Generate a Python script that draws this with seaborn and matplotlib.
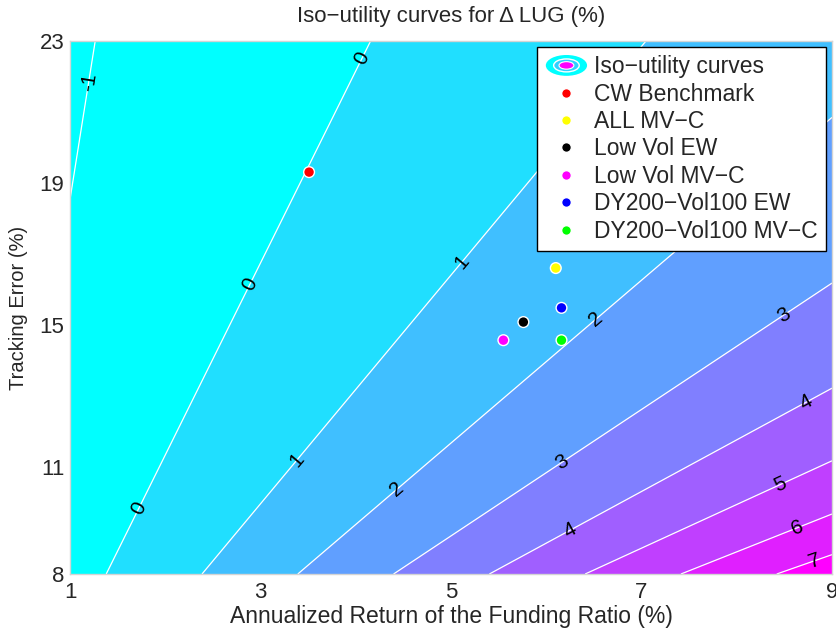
import numpy as np
import pandas as pd
import matplotlib
matplotlib.use("Agg")
import matplotlib.pyplot as plt
import seaborn as sns
from matplotlib.patches import Ellipse
from matplotlib.legend_handler import HandlerBase

# Portfolio positions: annualized funding-ratio return vs tracking error (%)
portfolios = ["CW Benchmark", "ALL MV−C", "Low Vol EW", "Low Vol MV−C",
              "DY200−Vol100 EW", "DY200−Vol100 MV−C"]
annual_return = [3.51, 6.10, 5.76, 5.55, 6.16, 6.16]
tracking_error = [19.31, 16.61, 15.09, 14.58, 15.49, 14.58]
point_colors = ["#ff0000", "#ffff00", "#000000", "#ff00ff", "#0000ff", "#00ff00"]

# Iso-utility levels and axis ticks
utility_levels = [-1, 0, 1, 2, 3, 4, 5, 6, 7]
x_ticks = [1, 3, 5, 7, 9]
y_ticks = [8, 11, 15, 19, 23]

# Delta LUG grows linearly with the (shifted) return / tracking-error ratio
lug_slope = 7.955
lug_shift = 0.10
lug_offset = -1.472

sns.set_style("white")
plt.rcParams["font.family"] = ["Liberation Sans", "DejaVu Sans"]

fig = plt.figure(figsize=(8.36, 6.33), dpi=100)
ax = fig.add_axes([70 / 836, 1 - 574 / 633, 762 / 836, 533 / 633])

ret_grid = np.linspace(x_ticks[0], x_ticks[-1], 500)
te_grid = np.linspace(y_ticks[0], y_ticks[-1], 500)
R, TE = np.meshgrid(ret_grid, te_grid)
Z = lug_slope * (R + lug_shift) / TE + lug_offset

zmin, zmax = Z.min(), Z.max()
fill_levels = [zmin - 1e-6] + utility_levels + [zmax + 1e-6]
lo, hi = utility_levels[0], utility_levels[-1]
fill_colors = [plt.cm.cool(0.0)] + [plt.cm.cool((L - lo) / (hi - lo)) for L in utility_levels]
ax.contourf(R, TE, Z, levels=fill_levels, colors=fill_colors, antialiased=True)
cs = ax.contour(R, TE, Z, levels=utility_levels, colors="white",
                linewidths=0.9, linestyles="solid")

label_spots = [(1.19, 21.85),
               (4.11, 22.47), (2.92, 16.10), (1.77, 9.80),
               (5.16, 16.70), (3.41, 11.15),
               (6.57, 15.01), (4.46, 10.31),
               (8.55, 15.06), (6.20, 11.01),
               (8.76, 12.67), (6.26, 9.15),
               (8.48, 10.39), (8.64, 9.24), (8.82, 8.39)]
ax.clabel(cs, inline=False, fontsize=15, colors="black", fmt="%d", manual=label_spots)

df = pd.DataFrame({"portfolio": portfolios, "ret": annual_return, "te": tracking_error})
sns.scatterplot(data=df, x="ret", y="te", hue="portfolio", hue_order=portfolios,
                palette=dict(zip(portfolios, point_colors)), s=60,
                edgecolor="white", linewidth=1.0, ax=ax, zorder=5, legend=True)

ax.set_xlim(x_ticks[0], x_ticks[-1])
ax.set_ylim(y_ticks[0], y_ticks[-1])
ax.set_xticks(x_ticks)
ax.set_yticks(y_ticks)
ax.tick_params(axis="both", labelsize=16, length=0)
ax.tick_params(axis="x", pad=6)
ax.tick_params(axis="y", pad=4)
for sp in ax.spines.values():
    sp.set_color("#d4d4d4")
    sp.set_linewidth(1.0)

ax.set_xlabel("Annualized Return of the Funding Ratio (%)", fontsize=16.5, labelpad=1)
ax.set_ylabel("Tracking Error (%)", fontsize=14.5, labelpad=8)
ax.set_title("Iso−utility curves for Δ LUG (%)", fontsize=16, pad=14)


class ContourIcon:
    pass


class HandlerContourIcon(HandlerBase):
    def create_artists(self, legend, orig_handle, xdescent, ydescent,
                       width, height, fontsize, trans):
        cx = width / 2 - xdescent
        cy = height / 2 - ydescent
        w = width
        h = height * 1.3
        outer = Ellipse((cx, cy), w, h, facecolor=plt.cm.cool(0.0),
                        edgecolor="none", transform=trans)
        ring = Ellipse((cx, cy), w * 0.62, h * 0.62, facecolor=plt.cm.cool(0.18),
                       edgecolor="white", linewidth=1.0, transform=trans)
        inner = Ellipse((cx, cy), w * 0.36, h * 0.36, facecolor=plt.cm.cool(1.0),
                        edgecolor="white", linewidth=0.8, transform=trans)
        return [outer, ring, inner]


handles, labels = ax.get_legend_handles_labels()
for hnd in handles:
    hnd.set_markersize(7)
    hnd.set_markeredgecolor("white")
leg = ax.legend([ContourIcon()] + handles, ["Iso−utility curves"] + labels,
                handler_map={ContourIcon: HandlerContourIcon()},
                loc="upper right", fontsize=16.5, frameon=True, fancybox=False,
                edgecolor="black", framealpha=1.0, borderaxespad=0.25,
                handlelength=1.8, handletextpad=0.3, labelspacing=0.19,
                borderpad=0.38)
leg.get_frame().set_linewidth(1.0)

fig.savefig("out.png", dpi=100)
